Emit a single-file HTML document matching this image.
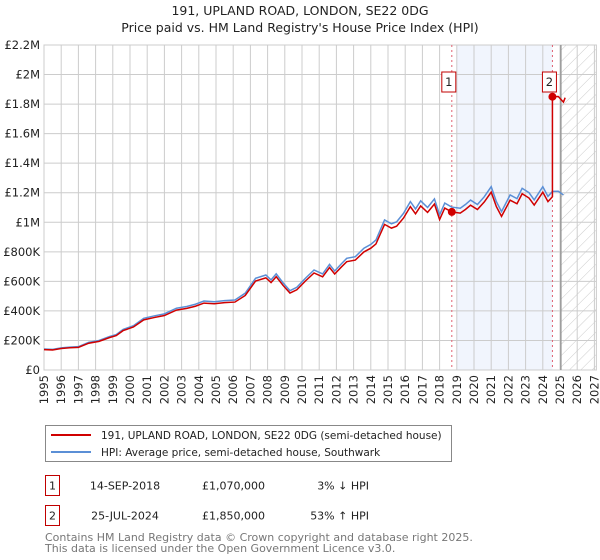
<!DOCTYPE html>
<html><head><meta charset="utf-8"><style>
body{margin:0;background:#fff;font-family:"Liberation Sans","DejaVu Sans",sans-serif;}
#wrap{position:relative;width:600px;height:560px;overflow:hidden}
svg text{font-family:"DejaVu Sans","Liberation Sans",sans-serif}
</style></head><body>
<div id="wrap">
<svg id="chart" width="600" height="560"></svg>
</div>
<script>
const hpiYears=[1995.0,1995.5,1996.0,1996.5,1997.0,1997.6,1998.2,1998.8,1999.2,1999.6,2000.2,2000.8,2001.4,2002.0,2002.7,2003.3,2003.8,2004.3,2004.9,2005.5,2006.1,2006.7,2007.3,2007.9,2008.2,2008.5,2008.9,2009.3,2009.7,2010.2,2010.7,2011.2,2011.6,2011.9,2012.3,2012.6,2013.1,2013.6,2014.0,2014.3,2014.8,2015.2,2015.5,2015.9,2016.3,2016.6,2016.9,2017.3,2017.7,2018.0,2018.3,2018.7,2019.2,2019.5,2019.8,2020.2,2020.6,2021.0,2021.3,2021.6,2022.1,2022.5,2022.8,2023.2,2023.5,2024.0,2024.3,2024.56,2024.9,2025.2];
const hpiValues=[142,140,150,155,158,187,200,226,240,275,300,350,366,380,418,430,445,467,462,470,474,520,621,643,610,651,590,537,560,621,677,650,715,670,720,756,767,824,850,880,1016,990,1003,1060,1140,1090,1145,1100,1158,1050,1130,1103,1095,1120,1150,1120,1173,1241,1140,1072,1185,1160,1230,1200,1151,1241,1175,1209,1210,1185];
const sales=[{label:"1",year:2018.71,value:1070},{label:"2",year:2024.56,value:1850}];
const yTicks=[0,200,400,600,800,1000,1200,1400,1600,1800,2000,2200];
const yTickLabels=["£0","£200K","£400K","£600K","£800K","£1M","£1.2M","£1.4M","£1.6M","£1.8M","£2M","£2.2M"];
const xTicks=[1995,1996,1997,1998,1999,2000,2001,2002,2003,2004,2005,2006,2007,2008,2009,2010,2011,2012,2013,2014,2015,2016,2017,2018,2019,2020,2021,2022,2023,2024,2025,2026,2027];

const L=44,R=594.4,T=45,B=370;
const X=y=>L+(y-1995)*(R-L)/32;
const Y=v=>B-v*(B-T)/2200;
const NS="http://www.w3.org/2000/svg";
const svg=document.getElementById('chart');
function mk(tag,attrs,parent){const e=document.createElementNS(NS,tag);for(const k in attrs)e.setAttribute(k,attrs[k]);(parent||svg).appendChild(e);return e;}

const defs=mk('defs',{});
const pat=mk('pattern',{id:'hatch',width:8,height:8,patternUnits:'userSpaceOnUse',patternTransform:'rotate(45)'},defs);
mk('line',{x1:0,y1:0,x2:0,y2:8,stroke:'#ccc','stroke-width':1},pat);

let t=mk('text',{x:300,y:15,'text-anchor':'middle','font-size':12.5,fill:'#222'});t.textContent="191, UPLAND ROAD, LONDON, SE22 0DG";


t=mk('text',{x:300,y:32,'text-anchor':'middle','font-size':12.5,fill:'#222'});t.textContent="Price paid vs. HM Land Registry's House Price Index (HPI)";



let sh=mk('rect',{x:X(2019),y:T,width:X(sales[1].year)-X(2019),height:B-T,fill:'#eef3fd',opacity:0.8});


let hz=mk('rect',{x:X(2025.05),y:T,width:R-X(2025.05)+2,height:B-T,fill:'url(#hatch)'});



xTicks.forEach(yr=>{const g=mk('line',{x1:X(yr),x2:X(yr),y1:T,y2:B,stroke:'#cccccc','stroke-width':1});


const tx=mk('text',{x:X(yr)+4,y:B+5,'text-anchor':'end','font-size':11.5,fill:'#222',transform:'rotate(-90 '+(X(yr)+4)+' '+(B+5)+')'});tx.textContent=yr;

});
yTicks.forEach((v,i)=>{const g=mk('line',{x1:L,x2:R+2,y1:Y(v),y2:Y(v),stroke:'#cccccc','stroke-width':1});


const tx=mk('text',{x:L-4,y:Y(v)+4,'text-anchor':'end','font-size':11.5,fill:'#222'});tx.textContent=yTickLabels[i];

});
let fr=mk('rect',{x:L,y:T,width:R-L+2,height:B-T,fill:'none',stroke:'#cccccc'});


let vl=mk('line',{x1:X(2025.05),x2:X(2025.05),y1:T,y2:B,stroke:'#999','stroke-width':1.5});



sales.forEach(s=>{const d=mk('line',{x1:X(s.year),x2:X(s.year),y1:T,y2:B,stroke:'#e06070','stroke-width':1,'stroke-dasharray':'2,3'});

});

const r1=sales[0].value/hpiValues[hpiYears.indexOf(2018.7)];
const i2=hpiYears.indexOf(2024.56);
const r2=sales[1].value/hpiValues[i2];
let redPts=[];
hpiYears.forEach((yr,i)=>{
  if(yr<sales[1].year){redPts.push([X(yr),Y(hpiValues[i]*r1)]);}
  else if(i===i2){redPts.push([X(yr),Y(hpiValues[i]*r1)]);redPts.push([X(yr),Y(sales[1].value)]);}
  else redPts.push([X(yr),Y(hpiValues[i]*r2)]);
});
redPts.push([X(2025.3),Y(hpiValues[hpiValues.length-1]*r2+30)]);
let blue=mk('polyline',{points:hpiYears.map((yr,i)=>X(yr)+','+Y(hpiValues[i])).join(' '),fill:'none',stroke:'#5b8fd6','stroke-width':1.5});


let red=mk('polyline',{points:redPts.map(p=>p.join(',')).join(' '),fill:'none',stroke:'#d00000','stroke-width':1.5});



sales.forEach(s=>{const c=mk('circle',{cx:X(s.year),cy:Y(s.value),r:4,fill:'#d00000'});


const bx=mk('rect',{x:X(s.year)-10,y:72,width:14,height:20,fill:'#fff',stroke:'#c00000'});


const tx=mk('text',{x:X(s.year)-3,y:86,'text-anchor':'middle','font-size':11.5,fill:'#222'});tx.textContent=s.label;

});

let lg=mk('rect',{x:45.5,y:425.5,width:406,height:36,fill:'#fff',stroke:'#888'});


let l1=mk('line',{x1:51,x2:91,y1:435,y2:435,stroke:'#d00000','stroke-width':2});


t=mk('text',{x:101,y:439,'font-size':10.5,fill:'#222'});t.textContent="191, UPLAND ROAD, LONDON, SE22 0DG (semi-detached house)";


let l2=mk('line',{x1:51,x2:91,y1:452,y2:452,stroke:'#5b8fd6','stroke-width':2});


t=mk('text',{x:101,y:456,'font-size':10.5,fill:'#222'});t.textContent="HPI: Average price, semi-detached house, Southwark";



const rows=[["1","14-SEP-2018","£1,070,000","3% ↓ HPI",475.5],["2","25-JUL-2024","£1,850,000","53% ↑ HPI",505.5]];
rows.forEach(r=>{
 const b=mk('rect',{x:45.5,y:r[4],width:14,height:20,fill:'#fff',stroke:'#c00000'});
 
 
 let a=mk('text',{x:52.5,y:r[4]+14,'text-anchor':'middle','font-size':11,fill:'#222'});a.textContent=r[0];
 
 
 a=mk('text',{x:125,y:r[4]+14,'text-anchor':'middle','font-size':11,fill:'#222'});a.textContent=r[1];
 
 
 a=mk('text',{x:265,y:r[4]+14,'text-anchor':'end','font-size':11,fill:'#222'});a.textContent=r[2];
 
 
 a=mk('text',{x:369,y:r[4]+14,'text-anchor':'end','font-size':11,fill:'#222'});a.textContent=r[3];
 
 
});
t=mk('text',{x:45,y:541,'font-size':11,fill:'#777'});t.textContent="Contains HM Land Registry data © Crown copyright and database right 2025.";


t=mk('text',{x:45,y:552,'font-size':11,fill:'#777'});t.textContent="This data is licensed under the Open Government Licence v3.0.";


</script>
</body></html>
